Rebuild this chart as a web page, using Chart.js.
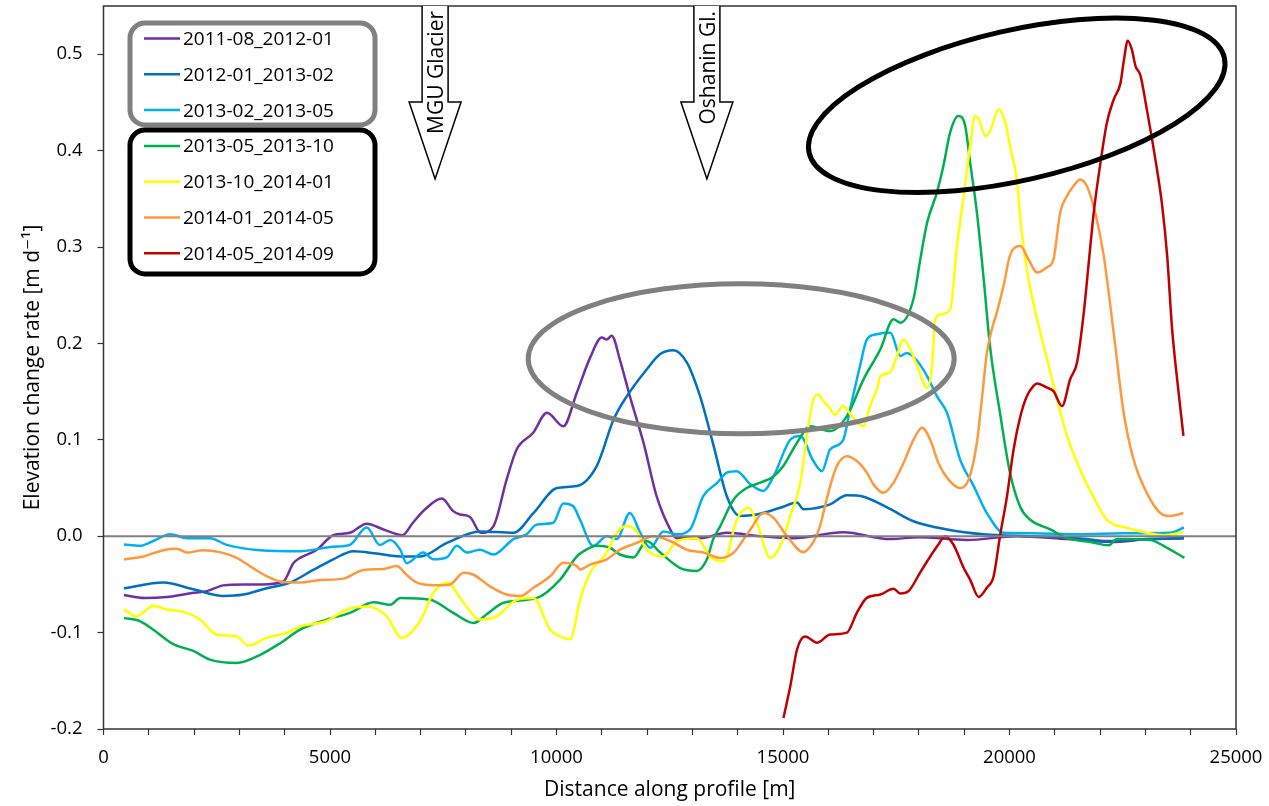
<!DOCTYPE html>
<html>
<head>
  <meta charset="utf-8">
  <script src="https://cdn.jsdelivr.net/npm/chart.js@4.4.1/dist/chart.umd.min.js"></script>
  <style>
    * { margin: 0; padding: 0; box-sizing: border-box; }
    body { background: #fff; width: 1269px; height: 806px; overflow: hidden; }
    #wrap { position: relative; width: 1269px; height: 806px; }
  </style>
</head>
<body>
  <div id="wrap"><canvas id="chart" width="1269" height="806"></canvas></div>
  <script>
    // Elevation change rate along the glacier profile, one line per interval
    const periods = ['2011-08_2012-01', '2012-01_2013-02', '2013-02_2013-05',
      '2013-05_2013-10', '2013-10_2014-01', '2014-01_2014-05', '2014-05_2014-09'];
    const colors = ['#7030A0', '#0070C0', '#00B0F0', '#00B050', '#FFFF00', '#FF993D', '#C00000'];

    // distance along profile [m] / rate [m d-1]
    const dist1 = [450, 900, 1400, 1950, 2280, 2650, 3100, 3500, 3970, 4190,
      4340, 4710, 5070, 5440, 5810, 6180, 6600, 6830, 7100, 7470,
      7720, 7870, 8090, 8330, 8610, 8900, 9120, 9480, 9790, 10150,
      10450, 10740, 11000, 11110, 11220, 11400, 11620, 11920, 12210, 12510,
      12650, 13170, 13760, 14500, 15230, 16330, 17360, 18000, 19060, 20160,
      21270, 22220, 23110, 23850];
    const rate1 = [-0.061, -0.064, -0.063, -0.059, -0.057, -0.051, -0.050, -0.050, -0.047, -0.028,
      -0.0225, -0.014, 0.001, 0.0035, 0.013, 0.007, 0.001, 0.014, 0.028, 0.039,
      0.026, 0.0225, 0.020, 0.0035, 0.0105, 0.059, 0.090, 0.107, 0.128, 0.114,
      0.149, 0.185, 0.206, 0.204, 0.208, 0.183, 0.145, 0.097, 0.0415, 0.007,
      -0.002, -0.002, 0.0035, 0.0, -0.002, 0.004, -0.003, -0.001, -0.004, 0.0,
      -0.003, -0.006, -0.003, -0.002];

    const dist2 = [450, 1320, 1980, 2650, 3090, 3600, 4120, 4630, 5070, 5520,
      6030, 6550, 6990, 7580, 8310, 9050, 9490, 10010, 10450, 10890,
      11260, 11550, 11990, 12290, 12580, 12880, 13170, 13470, 13760, 14050,
      14420, 14940, 15310, 15450, 16040, 16410, 16780, 17370, 17880, 18620,
      19430, 20500, 21500, 22200, 23000, 23850];
    const rate2 = [-0.054, -0.048, -0.055, -0.062, -0.0605, -0.054, -0.048, -0.035, -0.024, -0.0155,
      -0.018, -0.021, -0.021, -0.007, 0.005, 0.0035, 0.024, 0.050, 0.052, 0.073,
      0.121, 0.145, 0.173, 0.189, 0.193, 0.180, 0.145, 0.0935, 0.0415, 0.021,
      0.0225, 0.0295, 0.035, 0.028, 0.033, 0.0425, 0.041, 0.028, 0.0155, 0.007,
      0.002, 0.0, -0.002, -0.005, -0.003, -0.002];

    const dist3 = [450, 800, 1100, 1470, 1840, 2350, 2720, 3460, 4340, 5070,
      5440, 5810, 6100, 6330, 6550, 6690, 7060, 7280, 7580, 7800,
      8020, 8310, 8610, 9050, 9340, 9560, 9930, 10150, 10370, 10520,
      10810, 11110, 11330, 11620, 11850, 12070, 12360, 12660, 12950, 13240,
      13540, 13760, 13980, 14280, 14570, 14790, 15160, 15380, 15670, 15860,
      16040, 16330, 16480, 16700, 16850, 17070, 17370, 17590, 17730, 17960,
      18180, 18400, 18620, 18910, 19210, 19500, 19870, 20500, 21500, 22500,
      23550, 23850];
    const rate3 = [-0.0086, -0.010, -0.005, 0.002, -0.002, -0.002, -0.009, -0.0145, -0.0155, -0.011,
      -0.009, 0.009, -0.009, -0.004, -0.014, -0.028, -0.017, -0.024, -0.022, -0.010,
      -0.017, -0.014, -0.019, -0.003, 0.002, 0.012, 0.014, 0.034, 0.031, 0.017,
      -0.010, 0.0, -0.003, 0.024, 0.0035, -0.012, 0.005, 0.002, 0.007, 0.0415,
      0.055, 0.066, 0.0675, 0.054, 0.047, 0.062, 0.100, 0.104, 0.078, 0.0675,
      0.090, 0.100, 0.1315, 0.1765, 0.204, 0.2095, 0.211, 0.187, 0.190, 0.182,
      0.166, 0.145, 0.128, 0.0795, 0.052, 0.024, 0.0035, 0.003, 0.002, 0.003,
      0.0035, 0.009];

    const dist4 = [450, 800, 1100, 1540, 1980, 2350, 2940, 3460, 3900, 4340,
      4930, 5440, 5960, 6330, 6550, 7210, 7720, 8170, 8460, 8830,
      9570, 10080, 10450, 10600, 10890, 11180, 11400, 11700, 11990, 12290,
      12730, 13100, 13320, 13460, 13610, 13910, 14200, 14500, 14790, 15010,
      15310, 15600, 16040, 16410, 16780, 17150, 17440, 17590, 17880, 18030,
      18180, 18400, 18540, 18690, 18870, 19020, 19130, 19280, 19430, 19570,
      19790, 20010, 20240, 20460, 20900, 21270, 21780, 22190, 22370, 23110,
      23400, 23860];
    const rate4 = [-0.085, -0.088, -0.097, -0.112, -0.119, -0.128, -0.1315, -0.123, -0.111, -0.097,
      -0.0865, -0.0795, -0.0685, -0.071, -0.064, -0.066, -0.0795, -0.090, -0.081, -0.069,
      -0.064, -0.045, -0.021, -0.0155, -0.010, -0.012, -0.019, -0.022, -0.005, -0.017,
      -0.033, -0.036, -0.024, -0.003, 0.010, 0.038, 0.050, 0.0555, 0.062, 0.073,
      0.097, 0.114, 0.109, 0.1245, 0.163, 0.194, 0.225, 0.2215, 0.246, 0.287,
      0.325, 0.357, 0.384, 0.419, 0.436, 0.426, 0.388, 0.336, 0.267, 0.197,
      0.128, 0.066, 0.030, 0.017, 0.007, -0.002, -0.006, -0.0095, -0.003, -0.004,
      -0.010, -0.0225];

    const dist5 = [450, 730, 1100, 1400, 1840, 2130, 2500, 2940, 3200, 3600,
      4050, 4340, 4930, 5370, 5810, 6250, 6580, 6990, 7280, 7580,
      7950, 8310, 8680, 9120, 9490, 9860, 10080, 10300, 10520, 10740,
      11110, 11330, 11550, 11770, 11990, 12360, 12660, 13100, 13390, 13690,
      13980, 14240, 14420, 14720, 14940, 15160, 15380, 15560, 15670, 15780,
      15890, 16000, 16150, 16330, 16520, 16780, 16920, 17070, 17150, 17370,
      17480, 17660, 17810, 17960, 18180, 18290, 18360, 18470, 18690, 18840,
      18990, 19130, 19240, 19320, 19470, 19570, 19760, 19910, 20010, 20160,
      20270, 20420, 20610, 20830, 21050, 21270, 21560, 21860, 22150, 22590,
      23030, 23400, 23840];
    const rate5 = [-0.076, -0.083, -0.0725, -0.076, -0.0795, -0.0865, -0.102, -0.104, -0.1135, -0.1055,
      -0.100, -0.0935, -0.088, -0.076, -0.073, -0.083, -0.1055, -0.088, -0.059, -0.048,
      -0.069, -0.0865, -0.083, -0.066, -0.064, -0.097, -0.104, -0.107, -0.066, -0.038,
      -0.017, 0.0035, 0.0105, 0.005, -0.014, -0.021, -0.005, -0.002, -0.021, -0.026,
      0.017, 0.0295, 0.014, -0.0225, -0.010, 0.021, 0.055, 0.114, 0.142, 0.147,
      0.140, 0.135, 0.126, 0.135, 0.1245, 0.114, 0.135, 0.152, 0.166, 0.170,
      0.182, 0.204, 0.194, 0.1765, 0.154, 0.1765, 0.225, 0.230, 0.235, 0.301,
      0.353, 0.405, 0.436, 0.433, 0.415, 0.420, 0.443, 0.429, 0.405, 0.370,
      0.315, 0.2665, 0.225, 0.1835, 0.142, 0.104, 0.069, 0.040, 0.017, 0.0087,
      0.0035, 0.001, 0.004];

    const dist6 = [450, 880, 1320, 1620, 1840, 2200, 2570, 2940, 3230, 3600,
      3900, 4340, 4780, 5290, 5740, 6180, 6470, 6690, 6910, 7280,
      7650, 7950, 8170, 8530, 8900, 9200, 9490, 9860, 10150, 10450,
      10520, 10740, 11110, 11400, 11770, 12140, 12510, 12880, 13240, 13610,
      13910, 14280, 14570, 14790, 15090, 15450, 15670, 15820, 15900, 16040,
      16190, 16410, 16630, 16850, 17000, 17220, 17440, 17660, 17880, 18070,
      18250, 18430, 18650, 18910, 19100, 19280, 19390, 19500, 19610, 19720,
      19870, 20010, 20240, 20420, 20610, 20830, 20970, 21120, 21270, 21410,
      21560, 21710, 21890, 22080, 22300, 22520, 22740, 23030, 23330, 23550,
      23840];
    const rate6 = [-0.024, -0.021, -0.0145, -0.013, -0.017, -0.0145, -0.0165, -0.0225, -0.031, -0.0415,
      -0.047, -0.048, -0.0455, -0.044, -0.035, -0.034, -0.031, -0.040, -0.048, -0.051,
      -0.050, -0.038, -0.040, -0.052, -0.0605, -0.062, -0.0535, -0.0415, -0.0275, -0.031,
      -0.0345, -0.0295, -0.024, -0.014, -0.007, 0.0, -0.005, -0.014, -0.017, -0.0225,
      -0.017, 0.007, 0.024, 0.019, 0.0, -0.0165, -0.006, 0.011, 0.026, 0.052,
      0.073, 0.083, 0.078, 0.066, 0.0535, 0.045, 0.0555, 0.076, 0.100, 0.1125,
      0.100, 0.076, 0.059, 0.050, 0.059, 0.097, 0.142, 0.190, 0.2145, 0.232,
      0.260, 0.291, 0.301, 0.287, 0.2735, 0.279, 0.287, 0.336, 0.353, 0.363,
      0.370, 0.363, 0.336, 0.291, 0.211, 0.128, 0.0795, 0.045, 0.024, 0.021,
      0.024];

    const dist7 = [15010, 15160, 15310, 15490, 15750, 16040, 16410, 16630, 16850, 17150,
      17440, 17590, 17770, 18030, 18250, 18430, 18580, 18760, 18990, 19130,
      19320, 19500, 19650, 19790, 19940, 20090, 20240, 20380, 20530, 20610,
      20830, 20970, 21160, 21340, 21490, 21640, 21750, 21860, 22010, 22150,
      22300, 22450, 22520, 22610, 22700, 22780, 22890, 23030, 23220, 23370,
      23480, 23590, 23700, 23840];
    const rate7 = [-0.1885, -0.156, -0.1175, -0.104, -0.1105, -0.102, -0.100, -0.0795, -0.064, -0.0605,
      -0.0545, -0.0595, -0.057, -0.0375, -0.021, -0.0086, 0.0, -0.0086, -0.033, -0.045,
      -0.063, -0.0535, -0.0415, 0.0, 0.040, 0.090, 0.1245, 0.145, 0.156, 0.1585,
      0.154, 0.1505, 0.135, 0.163, 0.180, 0.232, 0.284, 0.336, 0.388, 0.429,
      0.453, 0.470, 0.492, 0.514, 0.505, 0.488, 0.478, 0.443, 0.391, 0.343,
      0.291, 0.2145, 0.163, 0.104];

    const distances = [dist1, dist2, dist3, dist4, dist5, dist6, dist7];
    const rates = [rate1, rate2, rate3, rate4, rate5, rate6, rate7];

    const xTicks = Array.from({ length: 26 }, (_, i) => i * 1000);
    const yTicks = [-0.2, -0.1, 0.0, 0.1, 0.2, 0.3, 0.4, 0.5];

    // glacier markers (arrow tip position, m) and highlighted groups
    const glaciers = [{ name: 'MGU Glacier', at: 7320 }, { name: 'Oshanin Gl.', at: 13320 }];
    const groups = [
      { color: '#808080', top: 23, bottom: 125, from: 0, to: 3, ellipse: { x: 14077, y: 0.184, rot: 0 } },
      { color: '#000000', top: 130, bottom: 274, from: 3, to: 7, ellipse: { x: 20160, y: 0.447, rot: -12.9 } }
    ];

    const FONT = '"Open Sans", "DejaVu Sans", sans-serif';

    const datasets = periods.map((label, i) => ({
      label,
      data: distances[i].map((d, k) => ({ x: d, y: rates[i][k] })),
      borderColor: colors[i],
      borderWidth: 2.5,
      pointRadius: 0,
      fill: false,
      cubicInterpolationMode: 'monotone',
      order: periods.length - i
    }));

    function roundedRect(ctx, x, y, w, h, r) {
      ctx.beginPath();
      ctx.moveTo(x + r, y);
      ctx.arcTo(x + w, y, x + w, y + h, r);
      ctx.arcTo(x + w, y + h, x, y + h, r);
      ctx.arcTo(x, y + h, x, y, r);
      ctx.arcTo(x, y, x + w, y, r);
      ctx.closePath();
    }

    function drawArrow(ctx, xTip, top, label) {
      const shaft = 13, head = 26, headTop = 102, tipY = 179;
      ctx.beginPath();
      ctx.moveTo(xTip - shaft, top);
      ctx.lineTo(xTip - shaft, headTop);
      ctx.lineTo(xTip - head, headTop);
      ctx.lineTo(xTip, tipY);
      ctx.lineTo(xTip + head, headTop);
      ctx.lineTo(xTip + shaft, headTop);
      ctx.lineTo(xTip + shaft, top);
      ctx.fillStyle = '#fff';
      ctx.fill();
      ctx.lineWidth = 1.5;
      ctx.strokeStyle = '#000';
      ctx.stroke();

      ctx.save();
      ctx.translate(xTip + 2, top + 5);
      ctx.rotate(-Math.PI / 2);
      ctx.font = '21px ' + FONT;
      ctx.fillStyle = '#000';
      ctx.textAlign = 'right';
      ctx.textBaseline = 'middle';
      ctx.fillText(label, 0, 0);
      ctx.restore();
    }

    const annotations = {
      id: 'annotations',
      afterDatasetsDraw(chart) {
        const { ctx, chartArea: a, scales: { x, y } } = chart;
        ctx.save();

        // horizontal axis line crossing at zero
        const y0 = y.getPixelForValue(0);
        ctx.strokeStyle = '#808080';
        ctx.lineWidth = 2;
        ctx.beginPath();
        ctx.moveTo(a.left, y0);
        ctx.lineTo(a.right, y0);
        ctx.stroke();

        // plot frame
        ctx.strokeStyle = '#333';
        ctx.lineWidth = 1.5;
        ctx.strokeRect(a.left, a.top, a.right - a.left, a.bottom - a.top);

        // ellipses around the peaks of each group
        groups.forEach(g => {
          ctx.beginPath();
          ctx.ellipse(x.getPixelForValue(g.ellipse.x), y.getPixelForValue(g.ellipse.y),
            213, 75, g.ellipse.rot * Math.PI / 180, 0, Math.PI * 2);
          ctx.strokeStyle = g.color;
          ctx.lineWidth = 5;
          ctx.stroke();
        });

        glaciers.forEach(g => drawArrow(ctx, x.getPixelForValue(g.at), a.top, g.name));

        // grouped legend
        groups.forEach(g => {
          roundedRect(ctx, 130, g.top, 245, g.bottom - g.top, 15);
          ctx.strokeStyle = g.color;
          ctx.lineWidth = 5;
          ctx.stroke();
        });
        ctx.font = '19px ' + FONT;
        ctx.textBaseline = 'middle';
        ctx.textAlign = 'left';
        chart.data.datasets.forEach((ds, i) => {
          const ly = 38.5 + i * 35.8;
          ctx.strokeStyle = ds.borderColor;
          ctx.lineWidth = 2.5;
          ctx.beginPath();
          ctx.moveTo(144, ly);
          ctx.lineTo(180, ly);
          ctx.stroke();
          ctx.fillStyle = '#000';
          ctx.fillText(ds.label, 183, ly + 1);
        });

        ctx.restore();
      }
    };

    new Chart(document.getElementById('chart'), {
      type: 'line',
      data: { datasets },
      options: {
        responsive: false,
        animation: false,
        devicePixelRatio: 1,
        layout: { padding: { top: 6, right: 33, left: 0, bottom: 0 } },
        plugins: { legend: { display: false }, tooltip: { enabled: false } },
        scales: {
          x: {
            type: 'linear',
            min: 0,
            max: 25000,
            afterBuildTicks: s => { s.ticks = xTicks.map(v => ({ value: v })); },
            afterFit: s => { s.height = 77; s.paddingLeft = 0; s.paddingRight = 0; },
            grid: { drawOnChartArea: false, tickLength: 6, tickColor: '#333', tickWidth: 1.2 },
            border: { display: false },
            ticks: {
              autoSkip: false,
              maxRotation: 0,
              padding: 12,
              color: '#000',
              font: { family: FONT, size: 18.5 },
              callback: v => (v % 5000 === 0 ? String(v) : '')
            },
            title: {
              display: true,
              text: 'Distance along profile [m]',
              color: '#000',
              font: { family: FONT, size: 21 },
              padding: { top: 0, bottom: 3 }
            }
          },
          y: {
            type: 'linear',
            min: -0.2,
            max: 0.55,
            afterBuildTicks: s => { s.ticks = yTicks.map(v => ({ value: v })); },
            afterFit: s => { s.width = 103.5; s.paddingTop = 0; s.paddingBottom = 0; },
            grid: { drawOnChartArea: false, tickLength: 6, tickColor: '#333', tickWidth: 1.2 },
            border: { display: false },
            ticks: {
              padding: 15,
              color: '#000',
              font: { family: FONT, size: 18.5 },
              callback: v => v.toFixed(1)
            },
            title: {
              display: true,
              text: 'Elevation change rate [m d\u207B\u00B9]',
              color: '#000',
              font: { family: FONT, size: 21 },
              padding: { top: 20, bottom: 0 }
            }
          }
        }
      },
      plugins: [annotations]
    });
  </script>
</body>
</html>
